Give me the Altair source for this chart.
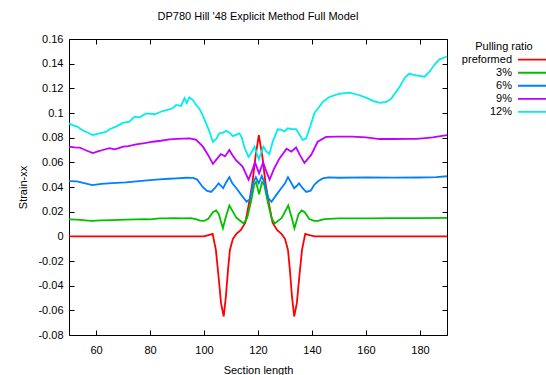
import altair as alt
import pandas as pd

FONT = "Liberation Sans"
title_text = "DP780 Hill '48 Explicit Method Full Model"
x_title = "Section length"
y_title = "Strain-xx"
legend_title = "Pulling ratio"
series_names = ["preformed", "3%", "6%", "9%", "12%"]
series_colors = ["#ff0000", "#00c000", "#0080ff", "#c000ff", "#00eeee"]
x_ticks = [60, 80, 100, 120, 140, 160, 180]
y_ticks = [-0.08, -0.06, -0.04, -0.02, 0, 0.02, 0.04, 0.06, 0.08, 0.1, 0.12, 0.14, 0.16]

pre_x = [50, 60, 70, 80, 90, 100, 101.3, 103.2, 104.4, 105.5, 106.3, 107.3, 108.1, 108.9, 109.6, 110.7,
         112, 113.6, 115.3, 116.7, 117.9, 119.1, 120.3, 121.6, 122.8, 124, 125.4, 127.1, 128.7, 130,
         131.1, 131.8, 132.6, 133.4, 134.4, 135.2, 136.3, 137.5, 139.4, 141, 150, 160, 170, 180, 190]
pre_y = [0, 0, 0, 0, 0, 0, 0.0008, 0.002, -0.011, -0.035, -0.054, -0.065, -0.049, -0.027, -0.011, -0.002,
         0.002, 0.005, 0.011, 0.027, 0.043, 0.065, 0.082, 0.065, 0.043, 0.027, 0.011, 0.005, 0.002, -0.002,
         -0.011, -0.027, -0.049, -0.065, -0.054, -0.035, -0.011, 0.002, 0.0008, 0, 0, 0, 0, 0, 0]

p3_x = [50, 53, 56, 58.6, 62, 66, 71, 75, 78, 80, 83.5, 86, 89, 92, 95, 97, 98.5, 100, 101.5, 103.3,
        104.5, 105.5, 107, 108, 109.4, 110.7, 112, 114.7, 116, 117.5, 118.6, 119.3, 120.4, 121.5, 122.3,
        123.5, 125, 126.2, 128.8, 130, 131.2, 132.5, 133.5, 135, 136.2, 137.3, 139, 140.8, 142.3, 144.5,
        150, 160, 170, 180, 190]
p3_y = [0.0138, 0.0135, 0.013, 0.0125, 0.013, 0.0132, 0.0135, 0.0138, 0.014, 0.0138, 0.0146, 0.0145,
        0.0148, 0.0146, 0.0147, 0.014, 0.0127, 0.0125, 0.014, 0.0195, 0.021, 0.018, 0.0065, 0.015, 0.025,
        0.02, 0.015, 0.0105, 0.015, 0.029, 0.042, 0.044, 0.034, 0.044, 0.042, 0.029, 0.015, 0.0105, 0.015,
        0.02, 0.025, 0.015, 0.0065, 0.018, 0.021, 0.0195, 0.014, 0.0125, 0.0125, 0.014, 0.0145, 0.0146,
        0.0147, 0.0148, 0.015]

p6_x = [50, 53, 56, 58.6, 62, 66, 71, 76, 80, 83.5, 87, 90, 93.4, 96, 97.5, 99.5, 101, 102.6, 104, 105.4,
        106.3, 107.1, 108, 109.4, 110.5, 112, 114, 115.8, 117, 118.2, 119.2, 120.3, 121.4, 122.5, 123.8,
        125, 126.6, 128.6, 130, 131.1, 132.4, 133.4, 134.4, 135.2, 136.5, 137.9, 139.5, 140.9, 142.5, 144,
        146, 150, 160, 170, 180, 186, 190]
p6_y = [0.0448, 0.0445, 0.043, 0.0416, 0.0425, 0.0432, 0.0438, 0.0448, 0.0455, 0.0462, 0.0467, 0.047,
        0.0475, 0.0474, 0.046, 0.040, 0.037, 0.036, 0.039, 0.043, 0.041, 0.039, 0.043, 0.048, 0.043, 0.039,
        0.033, 0.028, 0.030, 0.043, 0.048, 0.043, 0.049, 0.043, 0.031, 0.028, 0.033, 0.039, 0.043, 0.048,
        0.043, 0.039, 0.041, 0.043, 0.039, 0.036, 0.037, 0.042, 0.045, 0.047, 0.0478, 0.0475, 0.0478,
        0.0476, 0.0477, 0.048, 0.0487]

p9_x = [50, 52, 54, 56, 58.8, 61, 62.5, 65, 66.8, 68.5, 70, 72, 74.9, 78, 81, 84, 87.2, 90, 94.6, 97,
        99.6, 101.5, 103.3, 104.5, 106.2, 107.8, 109.4, 110.5, 111.9, 114.3, 116.5, 117.6, 118.9, 120.4,
        121.9, 123.2, 124.3, 126, 127.9, 130.6, 132.3, 134.1, 135.5, 137.2, 138.5, 139.7, 142.1, 145.2,
        150, 155, 160, 165, 170, 175, 178.6, 182, 184.7, 187, 190]
p9_y = [0.0727, 0.0722, 0.072, 0.070, 0.0675, 0.069, 0.070, 0.0715, 0.0705, 0.0715, 0.0727, 0.0732,
        0.0746, 0.0755, 0.0767, 0.0775, 0.0786, 0.079, 0.0795, 0.0785, 0.0727, 0.066, 0.0587, 0.062,
        0.0667, 0.0648, 0.070, 0.066, 0.0615, 0.0565, 0.046, 0.052, 0.060, 0.051, 0.060, 0.052, 0.046,
        0.055, 0.063, 0.071, 0.0686, 0.072, 0.066, 0.0595, 0.063, 0.066, 0.0767, 0.0806, 0.0808, 0.0808,
        0.0802, 0.0789, 0.0789, 0.079, 0.079, 0.0797, 0.0803, 0.081, 0.082]

p12_x = [50, 51.5, 53, 55, 57, 58.8, 60.5, 62.5, 64, 65, 67.4, 69.9, 72.4, 74.3, 76.1, 78.6, 81.7, 84.7,
         86.5, 88.4, 89.7, 91.5, 92.8, 93.6, 94.6, 95.9, 97.1, 98.3, 99.5, 100.8, 102, 103.3, 104.5, 105.7,
         107, 108.2, 109.5, 110.7, 112, 113.1, 114, 115, 116.5, 117.6, 118.7, 120.3, 122, 123, 124.2,
         125.5, 127.3, 128.5, 129.8, 131, 132.5, 134.1, 135.5, 136.6, 137.8, 139.5, 140.9, 142.7, 144,
         146.4, 150, 153.9, 157, 160, 163, 165.3, 167.5, 169.3, 172.4, 174.5, 176, 178.6, 181.7, 183.5,
         185.5, 187.2, 189, 190]
p12_y = [0.0916, 0.090, 0.089, 0.086, 0.084, 0.0822, 0.083, 0.084, 0.085, 0.0868, 0.089, 0.092, 0.093,
         0.097, 0.0965, 0.0997, 0.099, 0.1016, 0.1025, 0.1038, 0.1065, 0.1057, 0.112, 0.108, 0.1127,
         0.1105, 0.1065, 0.1035, 0.098, 0.0916, 0.085, 0.0765, 0.079, 0.0835, 0.084, 0.0855, 0.084,
         0.0813, 0.0825, 0.0835, 0.080, 0.072, 0.0645, 0.068, 0.0727, 0.0624, 0.0727, 0.069, 0.0667,
         0.077, 0.0868, 0.0865, 0.085, 0.0876, 0.087, 0.087, 0.082, 0.078, 0.0795, 0.090, 0.100, 0.105,
         0.109, 0.113, 0.1155, 0.1165, 0.1148, 0.1125, 0.1095, 0.1083, 0.109, 0.1115, 0.121, 0.129,
         0.1318, 0.1305, 0.1294, 0.1335, 0.1395, 0.1435, 0.145, 0.146]

all_x = [pre_x, p3_x, p6_x, p9_x, p12_x]
all_y = [pre_y, p3_y, p6_y, p9_y, p12_y]

rows = []
for name, xs, ys in zip(series_names, all_x, all_y):
    for xv, yv in zip(xs, ys):
        rows.append({"series": name, "x": xv, "y": yv})
df = pd.DataFrame(rows)
df_leg = pd.DataFrame({"series": series_names})
df_title = pd.DataFrame({"t": [legend_title]})

color_scale = alt.Scale(domain=series_names, range=series_colors)

lines = alt.Chart(df).mark_line(strokeWidth=1.8).encode(
    x=alt.X("x:Q",
            scale=alt.Scale(domain=[50, 190], nice=False, zero=False),
            axis=alt.Axis(values=x_ticks, title=x_title, grid=True, gridDash=[5, 286, 5, 0],
                          gridColor="black", gridOpacity=1, gridWidth=1, ticks=False, domain=False,
                          labelPadding=9, titlePadding=9)),
    y=alt.Y("y:Q",
            scale=alt.Scale(domain=[-0.08, 0.16], nice=False, zero=False),
            axis=alt.Axis(values=y_ticks, title=y_title, labelExpr="'' + datum.value", grid=True,
                          gridDash=[5, 368, 5, 0], gridColor="black", gridOpacity=1, gridWidth=1,
                          ticks=False, domain=False, labelPadding=6, titlePadding=9)),
    color=alt.Color("series:N", scale=color_scale, legend=None),
)

leg_y = alt.Y("series:N", sort=series_names,
              scale=alt.Scale(type="point", domain=series_names, range=[20.7, 72.8], padding=0),
              axis=None)

leg_lines = alt.Chart(df_leg).mark_rule(strokeWidth=1.8).encode(
    x=alt.value(449), x2=alt.value(490), y=leg_y,
    color=alt.Color("series:N", scale=color_scale, legend=None),
)
leg_text = alt.Chart(df_leg).mark_text(align="right", baseline="middle", font=FONT, fontSize=11,
                                       color="black").encode(
    x=alt.value(443), y=leg_y, text="series:N",
)
leg_title = alt.Chart(df_title).mark_text(align="center", baseline="middle", font=FONT, fontSize=11,
                                          color="black").encode(
    x=alt.value(435), y=alt.value(7.5), text="t:N",
)

chart = alt.layer(lines, leg_lines, leg_text, leg_title).resolve_scale(
    y="independent"
).properties(
    width=378, height=296,
    padding={"left": 69, "top": 39, "right": 99, "bottom": 40},
    autosize=alt.AutoSizeParams(type="none"),
    title=alt.TitleParams(title_text, font=FONT, fontSize=11, fontWeight="normal", color="black",
                          anchor="middle", frame="group", offset=11),
).configure_view(
    stroke="black", strokeWidth=1
).configure_axis(
    labelFont=FONT, labelFontSize=11, labelColor="black",
    titleFont=FONT, titleFontSize=11, titleColor="black", titleFontWeight="normal",
)

chart.save("out.html", embed_options={"renderer": "svg", "actions": False})
